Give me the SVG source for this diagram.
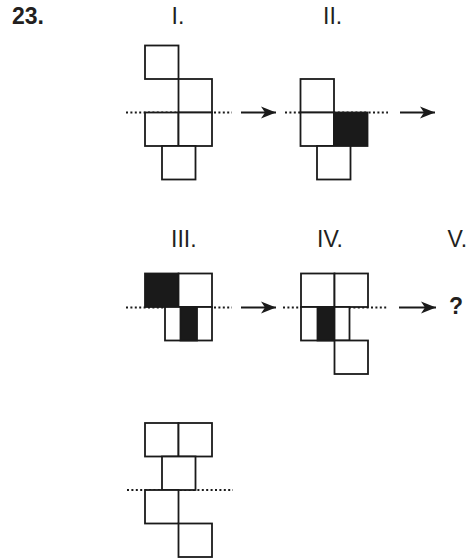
<svg xmlns="http://www.w3.org/2000/svg" width="469" height="560" viewBox="0 0 469 560">
  <defs>
    <marker id="ah" markerWidth="16" markerHeight="14" refX="15" refY="6.5" orient="auto" markerUnits="userSpaceOnUse">
      <path d="M0,0.5 L15,6.5 L0,12.5 L4,6.5 Z" fill="#1a1a1a"/>
    </marker>
  </defs>
  <style>
    .sq { fill: #fff; stroke: #1a1a1a; stroke-width: 1.8; }
    .blk { fill: #1a1a1a; stroke: #1a1a1a; stroke-width: 1.8; }
    .dot { fill: none; stroke: #1a1a1a; stroke-width: 1.8; stroke-dasharray: 2 2.4; }
    .arr { fill: none; stroke: #1a1a1a; stroke-width: 1.8; marker-end: url(#ah); }
    .lbl { font-family: "Liberation Sans", Arial, sans-serif; font-size: 23px; fill: #231f20; }
    .bold { font-family: "Liberation Sans", Arial, sans-serif; font-size: 23px; font-weight: bold; fill: #231f20; }
  </style>
  <rect width="469" height="560" fill="#fff"/>

  <g id="labels">
    <text class="bold" x="12" y="23.5">23.</text>
    <text class="lbl" x="171.5" y="23.5">I.</text>
    <text class="lbl" x="323" y="23.5">II.</text>
    <text class="lbl" x="171" y="246.7">III.</text>
    <text class="lbl" x="317" y="246.7">IV.</text>
    <text class="lbl" x="447.5" y="246.7">V.</text>
  </g>

  <g id="fig-I">
    <line class="dot" x1="126" y1="112.5" x2="232" y2="112.5"/>
    <rect class="sq" x="145" y="45.5" width="33.5" height="33.5"/>
    <rect class="sq" x="178.5" y="79" width="33.5" height="33.5"/>
    <rect class="sq" x="145" y="112.5" width="33.5" height="33.5"/>
    <rect class="sq" x="178.5" y="112.5" width="33.5" height="33.5"/>
    <rect class="sq" x="162" y="146" width="33.5" height="33.5"/>
  </g>

  <g id="fig-II">
    <line class="dot" x1="285" y1="112.5" x2="388" y2="112.5"/>
    <rect class="sq" x="300.5" y="79" width="33.5" height="33.5"/>
    <rect class="sq" x="300.5" y="112.5" width="33.5" height="33.5"/>
    <rect class="blk" x="334" y="112.5" width="33.5" height="33.5"/>
    <rect class="sq" x="317" y="146" width="33.5" height="33.5"/>
  </g>

  <g id="fig-III">
    <line class="dot" x1="126" y1="307.5" x2="232" y2="307.5"/>
    <rect class="blk" x="145" y="273.5" width="33.5" height="33.5"/>
    <rect class="sq" x="178.5" y="273.5" width="33.5" height="33.5"/>
    <rect class="sq" x="165" y="307" width="47" height="33.5"/>
    <rect class="blk" x="180.5" y="307" width="16.5" height="33.5"/>
  </g>

  <g id="fig-IV">
    <line class="dot" x1="283" y1="307.5" x2="388" y2="307.5"/>
    <rect class="sq" x="301" y="273.5" width="33.5" height="33.5"/>
    <rect class="sq" x="334.5" y="273.5" width="33.5" height="33.5"/>
    <rect class="sq" x="301" y="307" width="48.5" height="33.5"/>
    <rect class="blk" x="317.5" y="307" width="17" height="33.5"/>
    <rect class="sq" x="334.5" y="340.5" width="33.5" height="33.5"/>
  </g>

  <g id="fig-V">
    <text class="bold" x="449" y="314">?</text>
  </g>

  <g id="fig-answer">
    <line class="dot" x1="127" y1="490" x2="233" y2="490"/>
    <rect class="sq" x="145" y="423" width="33.5" height="33.5"/>
    <rect class="sq" x="178.5" y="423" width="33.5" height="33.5"/>
    <rect class="sq" x="162" y="456.5" width="33.5" height="33.5"/>
    <rect class="sq" x="145" y="490" width="33.5" height="33.5"/>
    <rect class="sq" x="178.5" y="523.5" width="33.5" height="33.5"/>
  </g>

  <g id="connectors">
    <line class="arr" x1="241" y1="112.5" x2="276" y2="112.5"/>
    <line class="arr" x1="400" y1="112.5" x2="435" y2="112.5"/>
    <line class="arr" x1="241" y1="307.5" x2="276" y2="307.5"/>
    <line class="arr" x1="399" y1="307.5" x2="436" y2="307.5"/>
  </g>
</svg>
